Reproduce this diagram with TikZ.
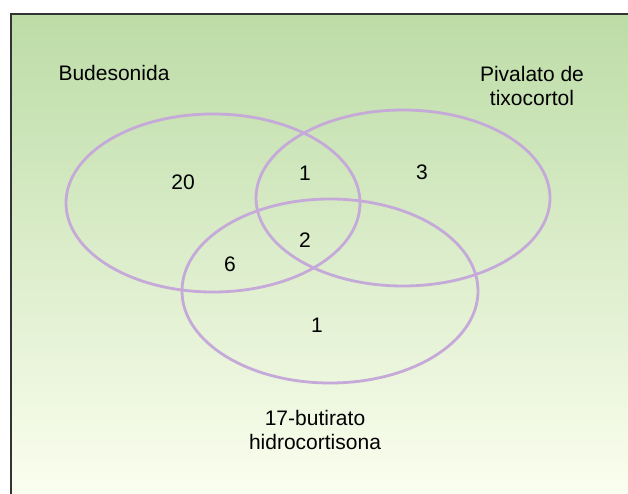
\documentclass[tikz,border=0pt]{standalone}
\usepackage{fontspec}
\setmainfont{Liberation Sans}
\definecolor{bgtop}{HTML}{BCDCA6}
\definecolor{bgbot}{HTML}{FBFEEF}
\definecolor{ring}{HTML}{C5A9D8}
\definecolor{frame}{HTML}{333333}
\begin{document}
\begin{tikzpicture}[x=1pt,y=-1pt, every node/.style={align=center,font=\fontsize{21}{24}\selectfont,inner sep=0pt}, set/.style={draw=ring,line width=2.8pt}]
\useasboundingbox (0,0) rectangle (628,494);
\shade[top color=bgtop,bottom color=bgbot] (11,14) rectangle (628,494);
\draw[frame,line width=1.8pt] (11,494)--(11,14)--(628,14);
\draw[set] (213,203) ellipse [x radius=147,y radius=89]; \draw[set] (403,198) ellipse [x radius=147,y radius=88];
\draw[set] (330,291) ellipse [x radius=148,y radius=92];
\node (bud) at (114,73) {Budesonida}; \node (piv) at (532,86) {Pivalato de\\tixocortol}; \node (hid) at (315,430) {17-butirato\\hidrocortisona};
\node (nb) at (183,182) {20}; \node (nbp) at (305,173) {1}; \node (np) at (422,172) {3};
\node (nall) at (305,240) {2}; \node (nbh) at (230,264) {6}; \node (nh) at (317,325) {1};
\end{tikzpicture}
\end{document}
